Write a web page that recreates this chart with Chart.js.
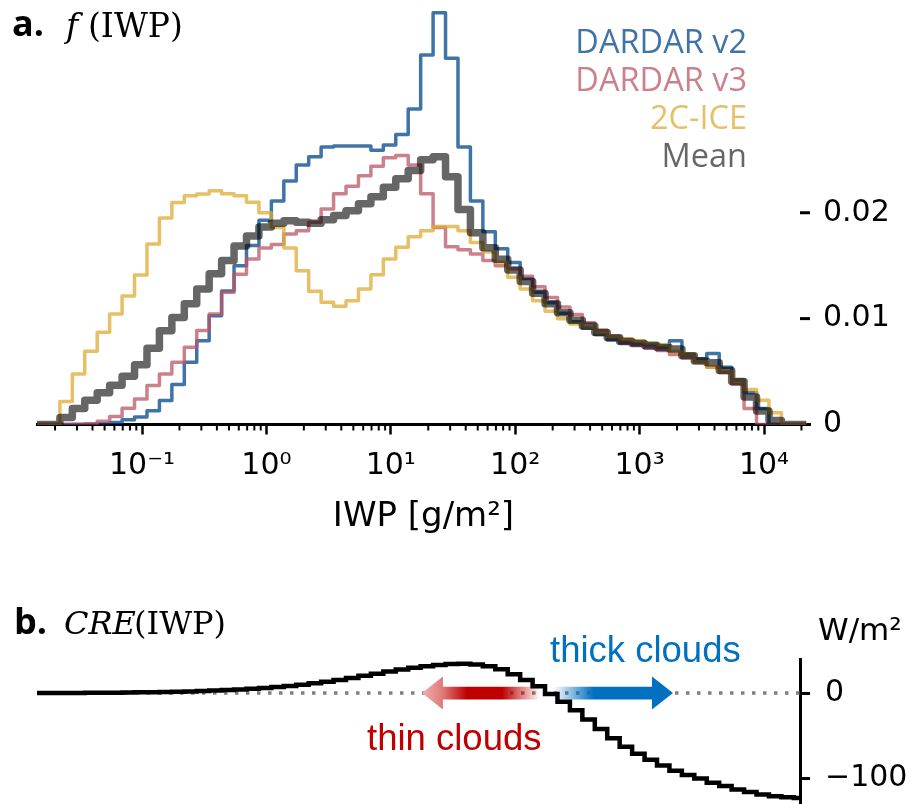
<!DOCTYPE html>
<html>
<head>
<meta charset="utf-8">
<script src="https://cdn.jsdelivr.net/npm/chart.js@4.4.0/dist/chart.umd.min.js"></script>
<style>
  html, body { margin: 0; padding: 0; background: #fff; }
  body { width: 913px; height: 804px; overflow: hidden; position: relative; }
  canvas { position: absolute; left: 0; }
  #chartA { top: -30px; }
  #chartB { top: 560px; }
</style>
</head>
<body>
<canvas id="chartA" width="913" height="580"></canvas>
<canvas id="chartB" width="913" height="280"></canvas>
<script>
// histogram bin edges, log10(IWP in g/m2)
const binEdgesLog = [-1.86, -1.76, -1.66, -1.56, -1.46, -1.36, -1.26, -1.16, -1.06, -0.96,
  -0.86, -0.76, -0.66, -0.56, -0.46, -0.36, -0.26, -0.16, -0.06, 0.04,
  0.14, 0.24, 0.34, 0.44, 0.54, 0.64, 0.74, 0.84, 0.94, 1.04,
  1.14, 1.24, 1.34, 1.44, 1.54, 1.64, 1.74, 1.84, 1.94, 2.04,
  2.14, 2.24, 2.34, 2.44, 2.54, 2.64, 2.74, 2.84, 2.94, 3.04,
  3.14, 3.24, 3.34, 3.44, 3.54, 3.64, 3.74, 3.84, 3.94, 4.04,
  4.14, 4.24, 4.34];

// f(IWP) per bin
const dardarV2 = [0, 0, 0, 0, 0.00002, 0.00006, 0.0002, 0.00044, 0.0007, 0.0013,
  0.00226, 0.00377, 0.00588, 0.00792, 0.01028, 0.0126, 0.015, 0.0169, 0.0193, 0.0211,
  0.023, 0.0245, 0.0253, 0.0262, 0.0263, 0.0263, 0.0263, 0.0259, 0.0264, 0.0274,
  0.0298, 0.0349, 0.0389, 0.0346, 0.0262, 0.0211, 0.0182, 0.0166, 0.0153, 0.0138,
  0.0125, 0.0115, 0.0105, 0.0097, 0.0091, 0.0085, 0.008, 0.0077, 0.0076, 0.0075,
  0.0073, 0.0079, 0.0066, 0.0062, 0.0067, 0.0054, 0.0042, 0.003, 0.0015, 0, 0, 0];
const dardarV3 = [0, 0, 0, 0.00003, 0.00008, 0.0003, 0.00075, 0.00154, 0.00242, 0.00368,
  0.00478, 0.00588, 0.0073, 0.00887, 0.01044, 0.01248, 0.0142, 0.01563, 0.01667, 0.017,
  0.018, 0.0183, 0.0191, 0.02035, 0.0218, 0.0225, 0.0235, 0.0244, 0.0252, 0.0254,
  0.0245, 0.0218, 0.0186, 0.0168, 0.0165, 0.0161, 0.0155, 0.015, 0.0147, 0.014,
  0.013, 0.012, 0.0111, 0.0104, 0.0096, 0.0089, 0.0083, 0.0078, 0.0075, 0.0072,
  0.007, 0.0066, 0.0063, 0.0059, 0.0054, 0.0049, 0.0038, 0.0015, 0, 0, 0, 0];
const ice2c = [0, 0, 0.00217, 0.00478, 0.00692, 0.00871, 0.01044, 0.01214, 0.01412, 0.01705,
  0.0195, 0.02097, 0.0216, 0.02176, 0.02208, 0.0218, 0.0216, 0.021, 0.02, 0.0186,
  0.01667, 0.01453, 0.01258, 0.01154, 0.01116, 0.0117, 0.0128, 0.01415, 0.01563, 0.01673,
  0.01774, 0.0183, 0.0187, 0.0187, 0.0183, 0.0172, 0.0163, 0.0153, 0.0139, 0.0128,
  0.0117, 0.0107, 0.01, 0.0095, 0.0092, 0.0087, 0.0083, 0.0081, 0.0079, 0.0077,
  0.0075, 0.0069, 0.0066, 0.0059, 0.0054, 0.005, 0.0042, 0.0033, 0.0023, 0.0011, 0, 0];
const meanF = [0, 0, 0.00065, 0.0015, 0.0023, 0.003, 0.0037, 0.00455, 0.00565, 0.0072,
  0.00885, 0.0101, 0.0114, 0.0128, 0.01425, 0.0155, 0.01685, 0.0178, 0.01865, 0.019,
  0.01925, 0.0191, 0.019, 0.01935, 0.01975, 0.0202, 0.02085, 0.0215, 0.0224, 0.0232,
  0.024, 0.025, 0.0253, 0.0234, 0.0203, 0.0181, 0.0167, 0.0156, 0.0146, 0.0135,
  0.0124, 0.0114, 0.01055, 0.00985, 0.0093, 0.0087, 0.0082, 0.00785, 0.00765, 0.00745,
  0.00727, 0.00713, 0.0065, 0.006, 0.00583, 0.0051, 0.00407, 0.0026, 0.00127, 0.00037, 0, 0];

// CRE(IWP) per bin, W/m2
const cre = [0, 0, 0.1, 0.2, 0.3, 0.4, 0.5, 0.7, 0.9, 1.1,
  1.4, 1.7, 2.0, 2.5, 3.0, 3.6, 4.3, 5.1, 6.0, 7.1,
  8.3, 9.8, 11.5, 13.4, 15.5, 17.8, 20.3, 22.8, 25.3, 27.7,
  29.8, 31.6, 33.0, 34.0, 34.3, 33.6, 31.6, 28, 22, 15.5,
  8, -1, -10, -20, -31, -42, -53, -63, -71, -78,
  -85, -91, -96, -100, -105, -109, -113, -116, -119, -121, -122, -123];

const seriesLabels = ['DARDAR v2', 'DARDAR v3', '2C-ICE', 'Mean'];
const seriesColors = ['rgba(0,68,136,0.75)', 'rgba(187,85,102,0.75)', 'rgba(221,170,51,0.75)', 'rgba(0,0,0,0.6)'];

const xMajorTicks = [0.1, 1, 10, 100, 1000, 10000];
const xTickLabels = ['10⁻¹', '10⁰', '10¹', '10²', '10³', '10⁴'];
const minorMultipliers = [2, 3, 4, 5, 6, 7, 8, 9];
const yTicksA = [0, 0.01, 0.02];
const yTickLabelsA = ['0', '0.01', '0.02'];
const creTicks = [-100, 0];
const creTickLabels = ['−100', '0'];

// arrows along CRE = 0, IWP values in g/m2
const thinArrow = { from: 158, to: 17.8 };
const thickArrow = { from: 201, to: 1856 };

const xMin = 0.01432, xMaxA = 23430, xMaxB = 19480;
const offA = 30;   // canvas A sits 30px above the page top
const offB = 560;

function steps(values, endVal) {
  const pts = values.map((v, i) => ({ x: Math.pow(10, binEdgesLog[i]), y: v }));
  pts.push({ x: Math.pow(10, binEdgesLog[values.length]), y: endVal });
  return pts;
}

function line(ctx, x1, y1, x2, y2) {
  ctx.beginPath(); ctx.moveTo(x1, y1); ctx.lineTo(x2, y2); ctx.stroke();
}

const panelA = {
  id: 'panelA',
  afterDraw(chart) {
    const ctx = chart.ctx, xs = chart.scales.x, ys = chart.scales.y, area = chart.chartArea;
    ctx.save();
    ctx.strokeStyle = '#000';
    ctx.lineWidth = 2;
    for (let d = -2; d <= 4; d++) {
      for (const m of minorMultipliers) {
        const v = m * Math.pow(10, d);
        if (v < xs.min || v > xs.max) continue;
        const px = xs.getPixelForValue(v);
        line(ctx, px, area.bottom + 1, px, area.bottom + 6);
      }
    }
    ctx.lineWidth = 3;
    yTicksA.slice(1).forEach(v => {
      const py = ys.getPixelForValue(v);
      line(ctx, area.right - 10, py, area.right, py);
    });
    // legend
    ctx.font = '32.5px "Open Sans"';
    ctx.textAlign = 'right';
    ctx.textBaseline = 'alphabetic';
    seriesLabels.forEach((t, i) => {
      ctx.fillStyle = seriesColors[i];
      ctx.fillText(t, 747, 53 + i * 38 + offA);
    });
    // title
    ctx.textAlign = 'left';
    ctx.fillStyle = '#000';
    ctx.font = 'bold 36px "Open Sans"';
    ctx.fillText('a.', 12, 36 + offA);
    ctx.font = 'italic 33px "DejaVu Serif"';
    ctx.fillText('f', 66, 37 + offA);
    ctx.font = '33px "DejaVu Serif"';
    ctx.fillText('(IWP)', 88, 37 + offA);
    ctx.restore();
  }
};

function drawArrow(ctx, xTail, xTip, y, fill) {
  const dir = Math.sign(xTip - xTail);
  const headLen = 21, headHalf = 16.5, shaftHalf = 6.3;
  const xBase = xTip - dir * headLen;
  ctx.beginPath();
  ctx.moveTo(xTail, y - shaftHalf);
  ctx.lineTo(xBase, y - shaftHalf);
  ctx.lineTo(xBase, y - headHalf);
  ctx.lineTo(xTip, y);
  ctx.lineTo(xBase, y + headHalf);
  ctx.lineTo(xBase, y + shaftHalf);
  ctx.lineTo(xTail, y + shaftHalf);
  ctx.closePath();
  ctx.fillStyle = fill;
  ctx.fill();
}

const panelB = {
  id: 'panelB',
  afterDatasetDraw(chart, args) {
    if (args.index !== 1) return;
    const ctx = chart.ctx, xs = chart.scales.x, ys = chart.scales.y;
    const y0 = ys.getPixelForValue(0);
    ctx.save();
    const r0 = xs.getPixelForValue(thinArrow.to), r1 = xs.getPixelForValue(thinArrow.from);
    const red = ctx.createLinearGradient(r0, 0, r1, 0);
    red.addColorStop(0, '#efb0b0');
    red.addColorStop(0.18, '#e07878');
    red.addColorStop(0.38, '#c00000');
    red.addColorStop(0.68, '#c00000');
    red.addColorStop(1, 'rgba(192,0,0,0)');
    drawArrow(ctx, r1, r0, y0, red);
    const b0 = xs.getPixelForValue(thickArrow.from), b1 = xs.getPixelForValue(thickArrow.to);
    const blue = ctx.createLinearGradient(b0, 0, b1, 0);
    blue.addColorStop(0, 'rgba(0,112,192,0)');
    blue.addColorStop(0.34, '#0070c0');
    blue.addColorStop(1, '#0070c0');
    drawArrow(ctx, b0, b1, y0, blue);
    ctx.restore();
  },
  afterDraw(chart) {
    const ctx = chart.ctx;
    ctx.save();
    ctx.textAlign = 'left';
    ctx.textBaseline = 'alphabetic';
    ctx.font = '36.5px "Liberation Sans"';
    ctx.fillStyle = '#0070c0';
    ctx.fillText('thick clouds', 550, 662 - offB);
    ctx.fillStyle = '#c00000';
    ctx.fillText('thin clouds', 367, 750 - offB);
    ctx.fillStyle = '#000';
    ctx.font = 'bold 36px "Open Sans"';
    ctx.fillText('b.', 14, 634 - offB);
    ctx.font = 'italic 32px "DejaVu Serif"';
    ctx.fillText('CRE', 64, 634 - offB);
    ctx.font = '32px "DejaVu Serif"';
    ctx.fillText('(IWP)', 134, 634 - offB);
    ctx.font = '31px "DejaVu Sans"';
    ctx.fillText('W/m²', 818, 640 - offB);
    ctx.restore();
  }
};

const tickFont = { family: 'DejaVu Sans', size: 30 };

new Chart(document.getElementById('chartA'), {
  type: 'line',
  data: {
    datasets: [dardarV2, dardarV3, ice2c, meanF].map((vals, i) => ({
      label: seriesLabels[i],
      data: steps(vals, 0),
      borderColor: seriesColors[i],
      borderWidth: i === 3 ? 7.5 : 3.5,
      borderJoinStyle: 'round',
      stepped: true,
      pointRadius: 0,
      fill: false,
      clip: 0,
      order: 3 - i
    }))
  },
  options: {
    responsive: false,
    animation: false,
    layout: { padding: { left: 37, top: offA, right: 0, bottom: 0 } },
    plugins: { legend: { display: false }, tooltip: { enabled: false } },
    scales: {
      x: {
        type: 'logarithmic', min: xMin, max: xMaxA,
        afterBuildTicks: s => { s.ticks = xMajorTicks.map(v => ({ value: v })); },
        afterFit: s => { s.height = 125.5; },
        ticks: { autoSkip: false, maxRotation: 0, padding: 14, color: '#000', font: tickFont,
          callback: (v, i) => xTickLabels[i] },
        grid: { drawOnChartArea: false, drawTicks: true, tickLength: 10, tickWidth: 2.5, tickColor: '#000' },
        border: { display: true, color: '#000', width: 3 },
        title: { display: true, text: 'IWP [g/m²]', color: '#000',
          font: { family: 'DejaVu Sans', size: 34 }, padding: { top: 0, bottom: 12 } }
      },
      y: {
        position: 'right', min: 0, max: 0.04,
        afterBuildTicks: s => { s.ticks = yTicksA.map(v => ({ value: v })); },
        afterFit: s => { s.width = 103; },
        ticks: { padding: 13, color: '#000', font: tickFont, callback: (v, i) => yTickLabelsA[i] },
        grid: { display: false, drawTicks: false },
        border: { display: false }
      }
    }
  },
  plugins: [panelA]
});

new Chart(document.getElementById('chartB'), {
  type: 'line',
  data: {
    datasets: [
      { label: 'CRE', data: steps(cre, cre[cre.length - 1]), borderColor: '#000', borderWidth: 4.5,
        stepped: true, pointRadius: 0, fill: false, clip: 0 },
      { label: 'zero', data: [{ x: xMin, y: 0 }, { x: xMaxB, y: 0 }], borderColor: '#808080',
        borderWidth: 3.5, borderDash: [3.5, 7.5], pointRadius: 0, fill: false, clip: 0 }
    ]
  },
  options: {
    responsive: false,
    animation: false,
    layout: { padding: { left: 37, top: 99, right: 0, bottom: 36 } },
    plugins: { legend: { display: false }, tooltip: { enabled: false } },
    scales: {
      x: { type: 'logarithmic', min: xMin, max: xMaxB, display: false },
      y: {
        position: 'right', min: -130, max: 40,
        afterBuildTicks: s => { s.ticks = creTicks.map(v => ({ value: v })); },
        afterFit: s => { s.width = 113; },
        ticks: { padding: 15, color: '#000', font: tickFont, callback: (v, i) => creTickLabels[i] },
        grid: { drawOnChartArea: false, drawTicks: true, tickLength: 10, tickWidth: 3, tickColor: '#000' },
        border: { display: true, color: '#000', width: 3 }
      }
    }
  },
  plugins: [panelB]
});
</script>
</body>
</html>
